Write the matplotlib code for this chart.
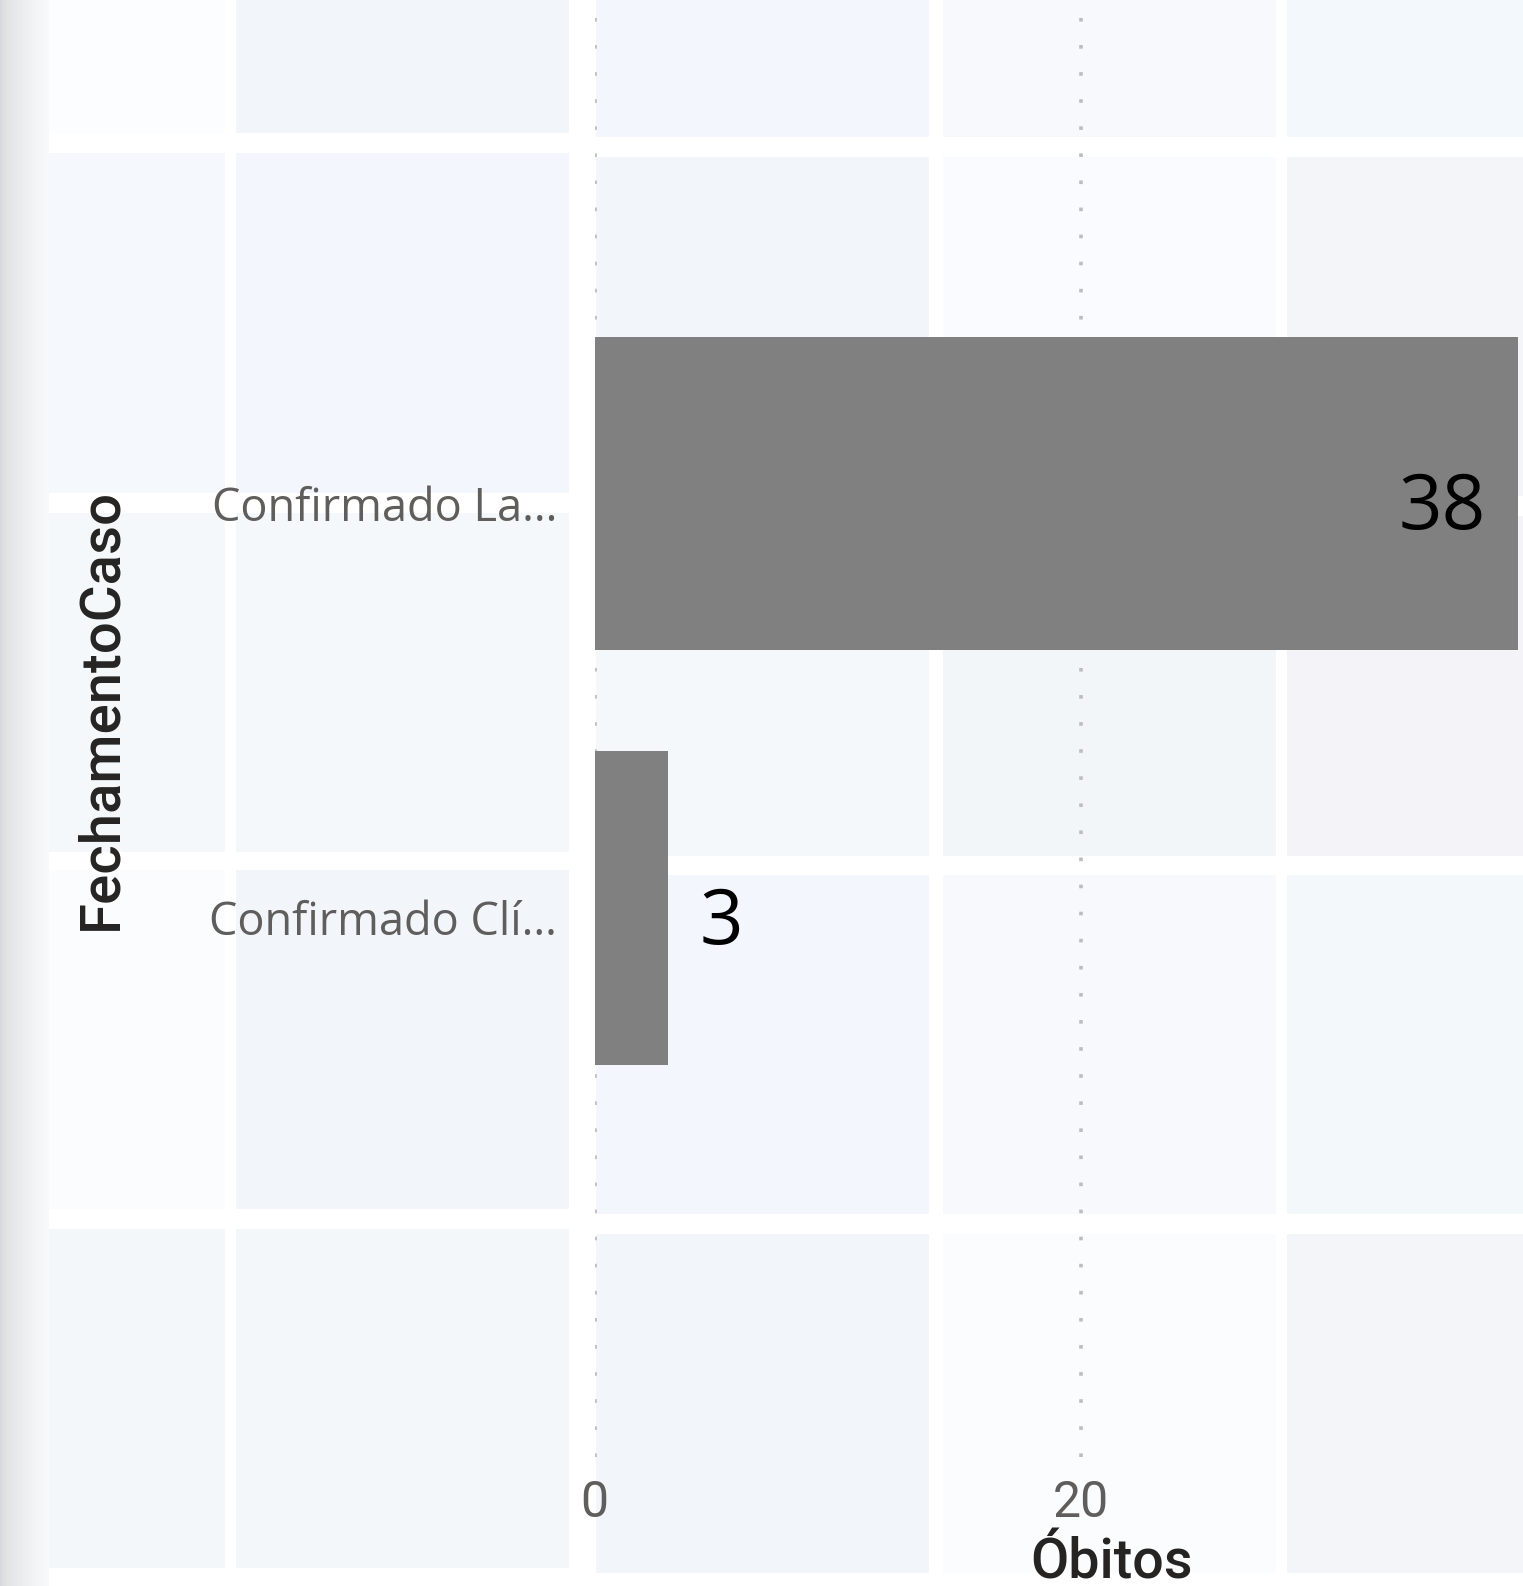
import matplotlib
matplotlib.use('Agg')
import matplotlib.pyplot as plt
import matplotlib.transforms as mtransforms
from matplotlib.patches import Rectangle
import numpy as np

# ---- data ----
categories = ["Confirmado La...", "Confirmado Clí..."]
obitos = [38, 3]
x_ticks = [0, 20]
x_label = "Óbitos"
y_label = "FechamentoCaso"

W, H = 1523, 1586
RW, RH = 1506, 1568  # layout measured on this scale

fig = plt.figure(figsize=(W / 100, H / 100), dpi=100)
fig.patch.set_facecolor('white')


def fx(x):
    return x / RW


def fy(y):
    return 1 - y / RH


# ---- background tiles (decoration) ----
cols = [(48, 222), (233, 563), (589, 919), (932, 1262), (1273, 1510)]
rows_ab = [(-5, 131), (151, 487), (507, 842), (860, 1195), (1215, 1550)]
rows_ce = [(-5, 135), (155, 490), (510, 846), (865, 1200), (1220, 1555)]
tile_colors = [
    ["#FCFDFE", "#F5F8FC", "#F4F8FA", "#FBFCFE", "#F4F7FA"],
    ["#F2F5FA", "#F3F6FC", "#F5F8FA", "#F2F5FA", "#F4F7FA"],
    ["#F3F6FC", "#F2F5FA", "#F5F8FA", "#F3F6FC", "#F2F5FA"],
    ["#F7F9FD", "#FAFBFE", "#F2F6F9", "#F7F9FD", "#FBFCFE"],
    ["#F2F8FB", "#F3F5F8", "#F3F3F8", "#F3F8FB", "#F3F5F8"],
]
for ci, (x0, x1) in enumerate(cols):
    rows = rows_ab if ci < 2 else rows_ce
    for ri, (y0, y1) in enumerate(rows):
        fig.add_artist(Rectangle((fx(x0), fy(y1)), fx(x1) - fx(x0), fy(y0) - fy(y1),
                                 transform=fig.transFigure, facecolor=tile_colors[ci][ri],
                                 edgecolor='none', zorder=0))

# left edge shading
gax = fig.add_axes([0, 0, fx(48), 1])
grad = np.linspace(0, 1, 64)
c0 = np.array([0.84, 0.85, 0.86])
c1 = np.array([0.975, 0.98, 0.985])
img = c0[None, :] + (c1 - c0)[None, :] * (grad[:, None] ** 0.6)
gax.imshow(img[None, :, :], aspect='auto', extent=[0, 1, 0, 1])
gax.axis('off')

# ---- main axes ----
ax = fig.add_axes([fx(588), fy(1440), fx(1501) - fx(588), fy(0) - fy(1440)])
ax.patch.set_alpha(0)
ypos = np.arange(len(categories))
ax.barh(ypos, obitos, height=0.757, color='#808080', zorder=3)
ax.set_xlim(0, 38)
ax.set_ylim(2.325, -1.192)
ax.set_xticks(x_ticks)
ax.set_xticklabels([str(t) for t in x_ticks], fontfamily='Roboto', fontsize=36, color='#605E5C')
ax.set_yticks(ypos)
ax.set_yticklabels(categories, fontfamily='Open Sans', fontsize=32.5, color='#605E5C')
ax.tick_params(axis='x', length=0, pad=16)
ax.tick_params(axis='y', length=0, pad=27)
shift = mtransforms.ScaledTranslation(0, -7 / 72, fig.dpi_scale_trans)
for lab in ax.get_yticklabels():
    lab.set_transform(lab.get_transform() + shift)
ax.set_axisbelow(True)
ax.grid(axis='x', color='#BDBDBD', linestyle=(0, (1, 6.5)), linewidth=2.6)
for sp in ax.spines.values():
    sp.set_visible(False)

for y, v in zip(ypos, obitos):
    if v > 10:
        ax.annotate(str(v), (v, y), xytext=(-23, -4.5), textcoords='offset points',
                    ha='right', va='center_baseline', fontsize=55, fontfamily='Open Sans',
                    color='black', zorder=4)
    else:
        ax.annotate(str(v), (v, y), xytext=(23, -5), textcoords='offset points',
                    ha='left', va='center_baseline', fontsize=55, fontfamily='Open Sans',
                    color='black', zorder=4)

fig.text(fx(100), fy(701), y_label, rotation=90, ha='center', va='center',
         fontsize=40.5, fontfamily='Roboto', fontweight='medium', color='#252423')
fig.text(fx(1099), fy(1519), x_label, ha='center', va='top',
         fontsize=40, fontfamily='Roboto', fontweight='medium', color='#252423')

fig.savefig('out.png', dpi=100, facecolor='white')
